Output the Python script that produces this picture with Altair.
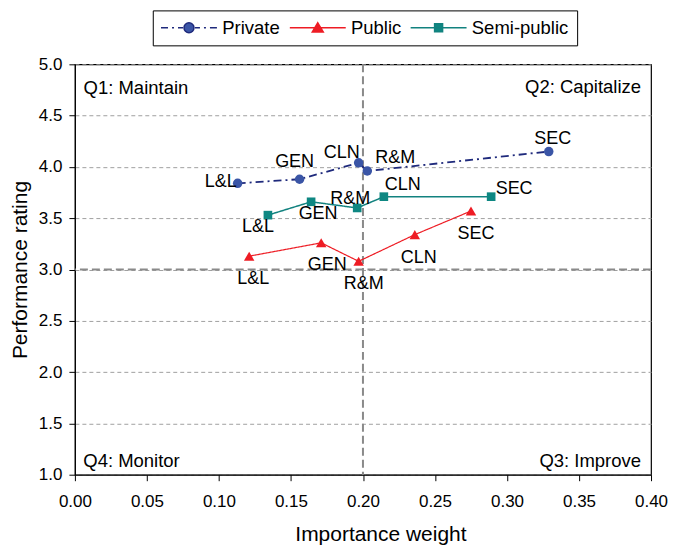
import altair as alt
import pandas as pd

# ---------------- data ----------------
SECTORS = ["Private", "Public", "Semi-public"]

CODES_PRIVATE = ["L&L", "GEN", "CLN", "R&M", "SEC"]
X_PRIVATE = [0.113, 0.156, 0.197, 0.203, 0.329]
Y_PRIVATE = [3.84, 3.88, 4.04, 3.96, 4.15]

CODES_PUBLIC = ["L&L", "GEN", "R&M", "CLN", "SEC"]
X_PUBLIC = [0.121, 0.171, 0.197, 0.236, 0.275]
Y_PUBLIC = [3.13, 3.26, 3.08, 3.34, 3.57]

CODES_SEMI = ["L&L", "GEN", "R&M", "CLN", "SEC"]
X_SEMI = [0.134, 0.164, 0.196, 0.2145, 0.289]
Y_SEMI = [3.53, 3.66, 3.60, 3.71, 3.71]

QUAD_X = 0.2
QUAD_Y = 3.0
QUAD_TEXT = ["Q1: Maintain", "Q2: Capitalize", "Q3: Improve", "Q4: Monitor"]

X_TICKS = [0.0, 0.05, 0.10, 0.15, 0.20, 0.25, 0.30, 0.35, 0.40]
Y_TICKS = [1.0, 1.5, 2.0, 2.5, 3.0, 3.5, 4.0, 4.5, 5.0]
X_DOMAIN = [0.0, 0.4]
Y_DOMAIN = [1.0, 5.0]

# ---------------- styles ----------------
FONT = "Liberation Sans"
LINE_COLORS = {"Private": "#1f2a7c", "Public": "#ee1c24", "Semi-public": "#12827f"}
POINT_COLORS = {"Private": "#3a55a6", "Public": "#ee1c24", "Semi-public": "#0e8782"}
LINE_DASH = {"Private": [8, 4, 2, 4], "Public": [1, 0], "Semi-public": [1, 0]}
LINE_WIDTH = {"Private": 1.8, "Public": 1.2, "Semi-public": 1.5}
SHAPES = {"Private": "circle", "Public": "triangle-up", "Semi-public": "square"}
SIZES = {"Private": 90, "Public": 110, "Semi-public": 75}

# legend symbols: line (with dash pattern) + marker, as custom paths
LEG_PATHS = [
    "M-5.6,0L-4.2,0M-3.4,0L-3.0,0M-2.2,0L-1.2,0M1.2,0L2.2,0M3.0,0L3.4,0M4.2,0L5.6,0"
    "M-1,0A1,1,0,1,1,1,0A1,1,0,1,1,-1,0Z",
    "M-5.6,0L5.6,0M0,-1L1.1,0.85L-1.1,0.85Z",
    "M-5.6,0L5.6,0M-0.8,-0.8L0.8,-0.8L0.8,0.8L-0.8,0.8Z",
]

# label offsets in pixels (dx, dy) per point
LABEL_OFFSETS = {
    "Private": [(-17, -1), (-5, -17), (-17, -10), (28, -13), (4, -13)],
    "Public": [(4, 23), (6, 22), (5, 23), (4, 23), (5, 23)],
    "Semi-public": [(-10, 12), (7, 12), (-7, -9), (19, -12), (23, -8)],
}

rows = []
for sec, codes, xs, ys in [
    ("Private", CODES_PRIVATE, X_PRIVATE, Y_PRIVATE),
    ("Public", CODES_PUBLIC, X_PUBLIC, Y_PUBLIC),
    ("Semi-public", CODES_SEMI, X_SEMI, Y_SEMI),
]:
    for i, (c, x, y) in enumerate(zip(codes, xs, ys)):
        rows.append({"sector": sec, "code": c, "x": x, "y": y, "key": f"{sec}-{i}"})
df = pd.DataFrame(rows)

x_scale = alt.Scale(domain=X_DOMAIN, nice=False, zero=False)
y_scale = alt.Scale(domain=Y_DOMAIN, nice=False, zero=False)

x_axis = alt.Axis(
    values=X_TICKS, format=".2f", grid=False, tickSize=6, labelPadding=13,
    labelFlush=False, labelOverlap=False,
    labelFontSize=17, labelColor="black", domainColor="black", tickColor="black",
    title="Importance weight", titleFontSize=21, titleFontWeight="normal",
    titleColor="black", titleX=306, titleY=66, titleBaseline="alphabetic",
    titleAlign="center",
)
y_axis = alt.Axis(
    values=Y_TICKS, format=".1f", grid=True, gridDash=[4, 3], gridColor="#a0a0a0",
    labelFlush=False, labelOverlap=False,
    gridWidth=1, tickSize=6, labelPadding=7, labelFontSize=17, labelColor="black",
    domainColor="black", tickColor="black",
    title="Performance rating", titleFontSize=21, titleFontWeight="normal",
    titleColor="black", titleAngle=270, titleX=-48, titleBaseline="alphabetic",
    titleAlign="center",
)

X = alt.X("x:Q", scale=x_scale, axis=x_axis)
Y = alt.Y("y:Q", scale=y_scale, axis=y_axis)

layers = []

# quadrant dividing lines
layers.append(
    alt.Chart(pd.DataFrame({"x": [QUAD_X]})).mark_rule(
        color="#8a8a8a", strokeWidth=2, strokeDash=[8, 4]
    ).encode(x=X)
)
layers.append(
    alt.Chart(pd.DataFrame({"y": [QUAD_Y]})).mark_rule(
        color="#8a8a8a", strokeWidth=2, strokeDash=[8, 4]
    ).encode(y=Y)
)

# series lines and points
for sec in SECTORS:
    sub = alt.Chart(df).transform_filter(alt.datum.sector == sec)
    layers.append(
        sub.mark_line(
            color=LINE_COLORS[sec], strokeWidth=LINE_WIDTH[sec], strokeDash=LINE_DASH[sec]
        ).encode(x=X, y=Y, order="x:Q")
    )
for sec in SECTORS:
    sub = alt.Chart(df).transform_filter(alt.datum.sector == sec)
    layers.append(
        sub.mark_point(
            filled=True, opacity=1, color=POINT_COLORS[sec], shape=SHAPES[sec],
            size=SIZES[sec],
        ).encode(x=X, y=Y)
    )

# point labels
for sec in SECTORS:
    for i, (dx, dy) in enumerate(LABEL_OFFSETS[sec]):
        layers.append(
            alt.Chart(df).transform_filter(alt.datum.key == f"{sec}-{i}").mark_text(
                dx=dx, dy=dy, fontSize=18, font=FONT, color="black",
                align="center", baseline="middle",
            ).encode(x=X, y=Y, text="code:N")
        )

# quadrant labels
quad_specs = [
    (QUAD_TEXT[0], X_DOMAIN[0], Y_DOMAIN[1], "left", 8.7, 29.4),
    (QUAD_TEXT[1], X_DOMAIN[1], Y_DOMAIN[1], "right", -10, 28.4),
    (QUAD_TEXT[2], X_DOMAIN[1], Y_DOMAIN[0], "right", -10, -7.6),
    (QUAD_TEXT[3], X_DOMAIN[0], Y_DOMAIN[0], "left", 8.4, -7.6),
]
for txt, qx, qy, al, dx, dy in quad_specs:
    layers.append(
        alt.Chart(pd.DataFrame({"x": [qx], "y": [qy], "t": [txt]})).mark_text(
            align=al, baseline="alphabetic", dx=dx, dy=dy, fontSize=18.5,
            font=FONT, color="black",
        ).encode(x=X, y=Y, text="t:N")
    )

# legend-only layer (no visible marks)
leg = alt.Legend(
    title=None, orient="none", legendX=78, legendY=-54, direction="horizontal",
    symbolSize=100, symbolStrokeWidth=1.5, symbolOffset=19, labelOffset=24,
    columnPadding=6, padding=8, strokeColor="black", fillColor="white",
    labelFontSize=18.5, labelFont=FONT, labelColor="black",
)
layers.append(
    alt.Chart(df).transform_filter("datum.x < -1").mark_point(filled=True, opacity=1).encode(
        x=X, y=Y,
        fill=alt.Fill("sector:N", scale=alt.Scale(domain=SECTORS, range=[POINT_COLORS[s] for s in SECTORS]), legend=leg),
        stroke=alt.Stroke("sector:N", scale=alt.Scale(domain=SECTORS, range=[LINE_COLORS[s] for s in SECTORS]), legend=leg),
        shape=alt.Shape("sector:N", scale=alt.Scale(domain=SECTORS, range=LEG_PATHS), legend=leg),
    )
)

chart = alt.layer(*layers).properties(
    width=577, height=411,
    padding={"left": 2, "top": 1, "right": 0, "bottom": 0},
).configure(font=FONT).configure_view(stroke="black", strokeWidth=1.2)

chart.save("out.html", embed_options={"renderer": "svg", "actions": False})
